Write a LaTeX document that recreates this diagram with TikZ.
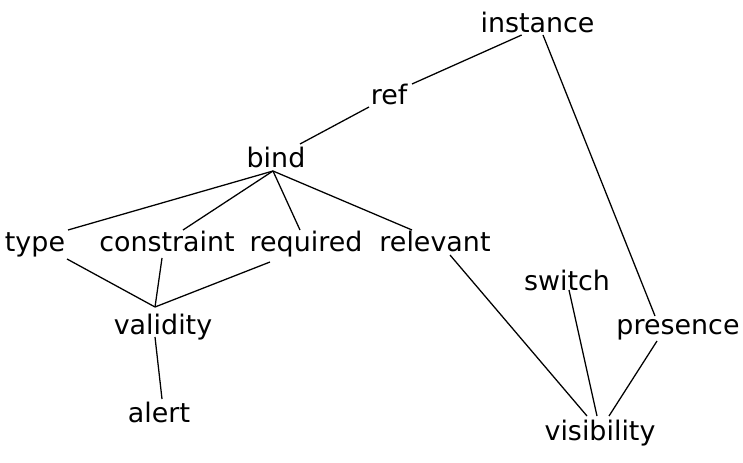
\documentclass[tikz,border=0pt]{standalone}
\usepackage{fontspec}
\setmainfont{DejaVu Sans}

\begin{document}
\begin{tikzpicture}[x=1bp,y=-1bp,
    every node/.style={font=\fontsize{27}{32}\selectfont, anchor=base, inner sep=0pt},
    link/.style={line width=0.045cm}]
                        \useasboundingbox (0,0) rectangle (743,463);

                        % Placing the labels
                        \node (instance) at (537.5,33) {instance};%
                        \node (ref) at (389,105) {ref};%
                        \node (bind) at (276,168) {bind};%
                        \node (type) at (35,252) {type};%
                        \node (constraint) at (167,252) {constraint};%
                        \node (required) at (306,252) {required};%
                        \node (relevant) at (435,252) {relevant};%
                        \node (switch) at (567,291) {switch};%
                        \node (validity) at (163,335) {validity};%
                        \node (presence) at (678,335) {presence};%
                        \node (alert) at (159,422) {alert};%
                        \node (visibility) at (600,440) {visibility};%

                        % Meeting points below bind and above validity
                        \coordinate (bindfoot) at ([shift={(-3,3)}]bind.base);%
                        \coordinate (validtop) at ([shift={(-8,-28)}]validity.base);%

                        % Drawing line instance ref, ref bind
                        \draw [link] ([shift={(-15.8,2)}]instance.base) -- ([shift={(23,-21)}]ref.base);%
                        \draw [link] ([shift={(-20,2)}]ref.base) -- ([shift={(24,-24)}]bind.base);%

                        % Drawing lines from bind
                        \draw [link] (bindfoot) -- ([shift={(33,-22)}]type.base);%
                        \draw [link] (bindfoot) -- ([shift={(16,-22)}]constraint.base);%
                        \draw [link] (bindfoot) -- ([shift={(-6,-22)}]required.base);%
                        \draw [link] (bindfoot) -- ([shift={(-23,-22)}]relevant.base);%

                        % Drawing lines to validity
                        \draw [link] ([shift={(32,7)}]type.base) -- (validtop);%
                        \draw [link] ([shift={(-5,6)}]constraint.base) -- (validtop);%
                        \draw [link] ([shift={(-36,10)}]required.base) -- (validtop);%

                        % Drawing line validity alert
                        \draw [link] ([shift={(-8,2)}]validity.base) -- ([shift={(3,-23)}]alert.base);%

                        % Drawing line instance presence
                        \draw [link] ([shift={(5.5,2)}]instance.base) -- ([shift={(-23,-19)}]presence.base);%

                        % Drawing lines to visibility
                        \draw [link] ([shift={(15,3)}]relevant.base) -- ([shift={(-13,-24)}]visibility.base);%
                        \draw [link] ([shift={(2,-1)}]switch.base) -- ([shift={(-3,-24)}]visibility.base);%
                        \draw [link] ([shift={(-21,6)}]presence.base) -- ([shift={(9,-24)}]visibility.base);%
\end{tikzpicture}
\end{document}
